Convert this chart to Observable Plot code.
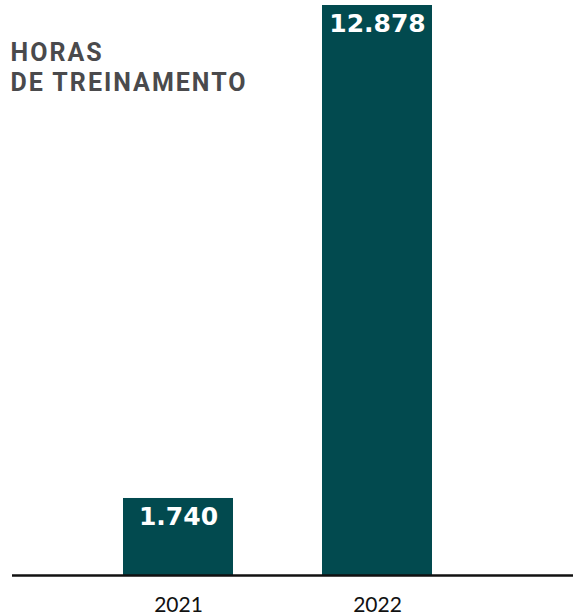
<!DOCTYPE html>
<html>
<head>
<meta charset="utf-8">
<script src="https://cdn.jsdelivr.net/npm/d3@7"></script>
<script src="https://cdn.jsdelivr.net/npm/@observablehq/plot@0.6"></script>
<style>
  html, body { margin: 0; padding: 0; background: #fff; }
  #chart { position: relative; width: 573px; height: 616px; }
</style>
</head>
<body>
<div id="chart"></div>
<script>
const years = ["2021", "2022"];
const hours = [1740, 12878];
const valueLabels = ["1.740", "12.878"];
const titleLines = ["HORAS", "DE TREINAMENTO"];

const data = years.map((y, i) => ({year: y, value: hours[i], label: valueLabels[i]}));

const titleStyle = {
  frameAnchor: "top-left", textAnchor: "start", lineAnchor: "top",
  dx: -2, fontSize: 25, fontWeight: "bold", fontFamily: "Roboto",
  fill: "#4a4a4c"
};

const plot = Plot.plot({
  width: 573,
  height: 616,
  marginTop: 5,
  marginBottom: 41,
  marginLeft: 12,
  marginRight: 0,
  style: {background: "#fff", overflow: "visible"},
  x: {domain: years, range: [123, 433], paddingInner: 0.446, paddingOuter: 0},
  y: {domain: [0, 12878], axis: null},
  marks: [
    Plot.barY(data, {x: "year", y: "value", fill: "#024a4f"}),
    Plot.text(data, {
      x: "year", y: "value", text: "label",
      lineAnchor: "top", dy: 9,
      fill: "#fff", fontSize: 25, fontWeight: "bold",
      fontFamily: "DejaVu Sans"
    }),
    Plot.ruleY([0], {stroke: "#111", strokeWidth: 2.5}),
    Plot.axisX({
      tickSize: 0, tickPadding: 22, fontSize: 21,
      fontFamily: "Lato", fill: "#111", label: null
    }),
    Plot.text([titleLines[0]], {...titleStyle, dy: 38}),
    Plot.text([titleLines[1]], {...titleStyle, dy: 67.5})
  ]
});
document.getElementById("chart").appendChild(plot);
plot.querySelectorAll("text").forEach(t => {
  if (titleLines.includes(t.textContent)) t.setAttribute("letter-spacing", "2");
});
</script>
</body>
</html>
